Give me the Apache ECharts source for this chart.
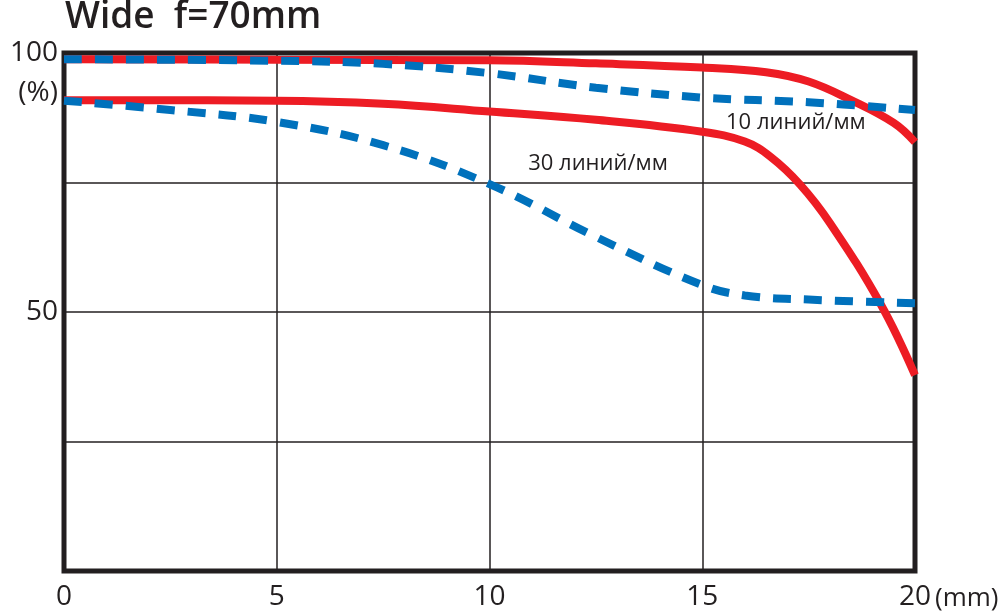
<!DOCTYPE html>
<html>
<head>
<meta charset="utf-8">
<script src="https://cdn.jsdelivr.net/npm/echarts@6/dist/echarts.min.js"></script>
<style>
  html, body { margin: 0; padding: 0; background: #fff; }
  #main { width: 1000px; height: 614px; }
</style>
</head>
<body>
<div id="main"></div>
<script>
// MTF chart, Wide f=70mm
var xTicks = [0, 5, 10, 15, 20];
var yLabelsShown = [100, 50];

// 10 lines/mm, sagittal (solid red)
var red10 = [[0, 98.8], [5, 98.7], [10, 98.6], [12.5, 98.0], [15, 97.2],
             [16.5, 96.3], [17.5, 94.5], [18.5, 90.9], [19.5, 86.5], [20, 82.8]];
// 10 lines/mm, meridional (dashed blue)
var blue10 = [[0, 98.8], [5, 98.5], [7.5, 97.9], [10, 96.1], [12.5, 93.3], [15, 91.4],
              [17.5, 90.5], [20, 89.0]];
// 30 lines/mm, sagittal (solid red)
var red30 = [[0, 90.9], [5, 90.8], [7.5, 90.2], [10, 88.7], [12.5, 87.1], [15, 84.8],
             [16, 82.9], [16.6, 80.0], [17.3, 74.6], [18, 67.2], [19.2, 51.4], [20, 37.8]];
// 30 lines/mm, meridional (dashed blue)
var blue30 = [[0, 90.8], [2.5, 89.0], [5, 86.7], [7.5, 82.2], [10, 74.7],
              [12.5, 64.5], [15, 55.2], [16, 53.2], [17.5, 52.4], [20, 51.7]];

var curveLabels = [
  { text: '10 линий/мм', at: [17.2, 86.6] },
  { text: '30 линий/мм', at: [12.55, 78.7] }
];

var RED = '#ed1c24';
var BLUE = '#0071bc';
var INK = '#231f20';
var FONT = '"Open Sans", "Noto Sans", sans-serif';

var chart = echarts.init(document.getElementById('main'));

function solid(data) {
  return {
    type: 'line', data: data, smooth: 0.4, symbol: 'none',
    lineStyle: { color: RED, width: 8 }, z: 3
  };
}
function dashed(data) {
  return {
    type: 'line', data: data, smooth: 0.4, symbol: 'none',
    lineStyle: { color: BLUE, width: 8, type: [18, 13] }, z: 4
  };
}

chart.setOption({
  animation: false,
  backgroundColor: '#fff',
  title: {
    text: 'Wide  f=70mm', left: 60, top: -6,
    textStyle: { fontFamily: FONT, fontSize: 37, fontWeight: 600, color: INK }
  },
  grid: {
    left: 64, right: 85, top: 53, bottom: 43,
    show: true, borderColor: INK, borderWidth: 5, backgroundColor: 'transparent'
  },
  xAxis: {
    type: 'value', min: 0, max: 20, interval: 5,
    axisLine: { show: false }, axisTick: { show: false },
    axisLabel: {
      margin: 12, fontFamily: FONT, fontSize: 28, color: INK,
      formatter: function (v) { return xTicks.indexOf(v) >= 0 ? String(v) : ''; }
    },
    splitLine: { show: true, lineStyle: { color: INK, width: 1.5 } }
  },
  yAxis: {
    type: 'value', min: 0, max: 100, interval: 25,
    axisLine: { show: false }, axisTick: { show: false },
    axisLabel: {
      margin: 6, fontFamily: FONT, fontSize: 28, color: INK,
      formatter: function (v) { return yLabelsShown.indexOf(v) >= 0 ? String(v) : ''; }
    },
    splitLine: { show: true, lineStyle: { color: INK, width: 1.5 } }
  },
  series: [solid(red10), solid(red30), dashed(blue10), dashed(blue30)]
});

var graphics = curveLabels.map(function (l) {
  var p = chart.convertToPixel({ gridIndex: 0 }, l.at);
  return {
    type: 'text', x: p[0], y: p[1], z: 10,
    style: { text: l.text, fontFamily: FONT, fontSize: 22, fill: INK, align: 'center', verticalAlign: 'middle' }
  };
});
var pMm = chart.convertToPixel({ gridIndex: 0 }, [20, 0]);
graphics.push({
  type: 'text', x: pMm[0] + 20, y: pMm[1] + 28, z: 10,
  style: { text: '(mm)', fontFamily: FONT, fontSize: 26, fill: INK, align: 'left', verticalAlign: 'middle' }
});
var pPct = chart.convertToPixel({ gridIndex: 0 }, [0, 100]);
graphics.push({
  type: 'text', x: pPct[0] - 6, y: pPct[1] + 40, z: 10,
  style: { text: '(%)', fontFamily: FONT, fontSize: 28, fill: INK, align: 'right', verticalAlign: 'middle' }
});
chart.setOption({ graphic: graphics });
</script>
</body>
</html>
